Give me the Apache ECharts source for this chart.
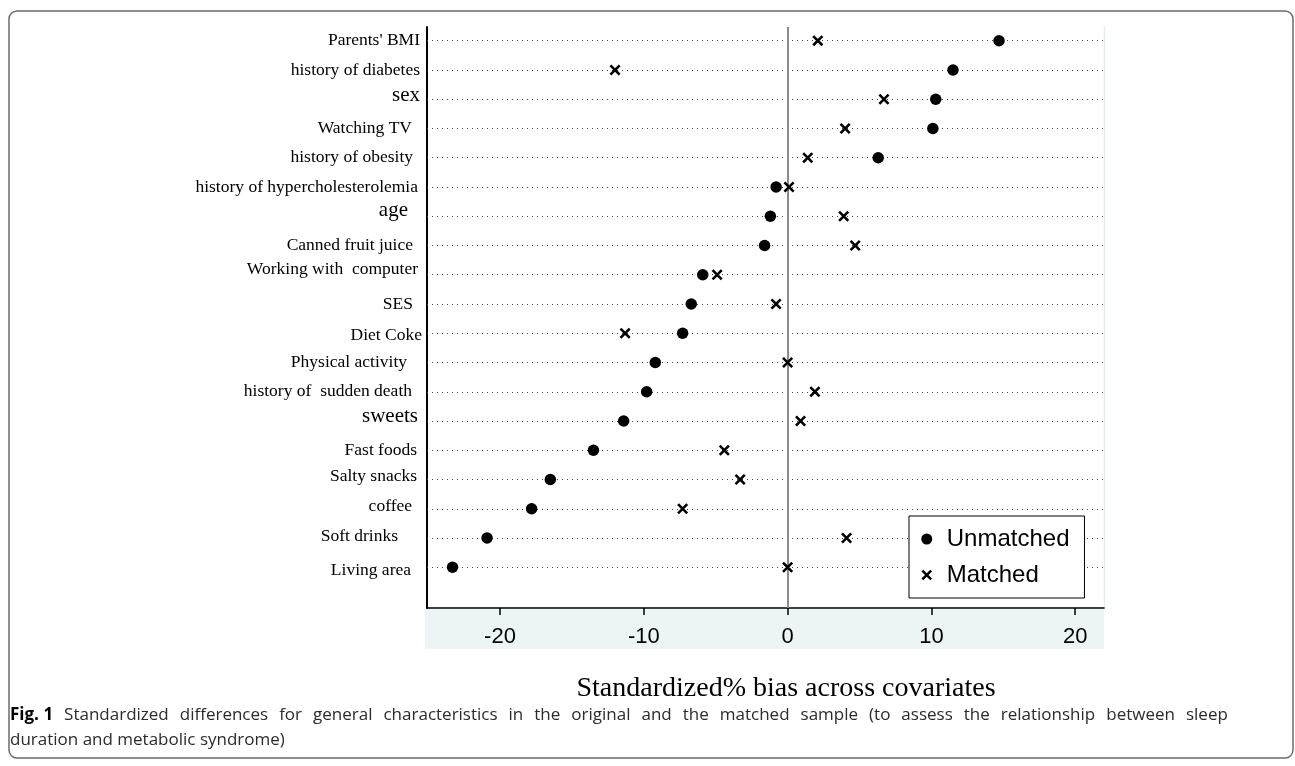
<!DOCTYPE html>
<html>
<head>
<meta charset="utf-8">
<script src="https://cdn.jsdelivr.net/npm/echarts@6/dist/echarts.min.js"></script>
<style>html,body{margin:0;padding:0;background:#fff}#c{width:1295px;height:766px}</style>
</head>
<body>
<div id="c"></div>
<script>
// ---- data ----
const categories = ["Parents' BMI", "history of diabetes", "sex", "Watching TV", "history of obesity",
  "history of hypercholesterolemia", "age", "Canned fruit juice", "Working with  computer", "SES",
  "Diet Coke", "Physical activity", "history of  sudden death", "sweets", "Fast foods",
  "Salty snacks", "coffee", "Soft drinks", "Living area"];
const unmatched = [14.7, 11.5, 10.3, 10.1, 6.3, -0.8, -1.2, -1.6, -5.9, -6.7, -7.3, -9.2, -9.8, -11.4, -13.5, -16.5, -17.8, -20.9, -23.3];
const matched = [2.1, -12.0, 6.7, 4.0, 1.4, 0.1, 3.9, 4.7, -4.9, -0.8, -11.3, 0.0, 1.9, 0.9, -4.4, -3.3, -7.3, 4.1, 0.0];
const xTicks = [-20, -10, 0, 10, 20];
const seriesNames = ['Unmatched', 'Matched'];
const xTitle = 'Standardized% bias across covariates';
const captionBold = 'Fig. 1';
const captionLine1 = 'Standardized differences for general characteristics in the original and the matched sample (to assess the relationship between sleep';
const captionLine2 = 'duration and metabolic syndrome)';

// ---- label styling (font size, right padding, vertical shift) ----
const bigLabels = { 'sex': 1, 'age': 1, 'sweets': 1 };
const labelTweak = {
  "Parents' BMI": [2, 0], "history of diabetes": [2, 0], "sex": [2, -4], "Watching TV": [10, 0],
  "history of obesity": [9, 0], "history of hypercholesterolemia": [4, 0], "age": [14, -6],
  "Canned fruit juice": [9, 0], "Working with  computer": [4, -5], "SES": [9, 0], "Diet Coke": [0, 2],
  "Physical activity": [15, 0], "history of  sudden death": [10, 0], "sweets": [4, -5],
  "Fast foods": [5, 0], "Salty snacks": [5, -3], "coffee": [10, -2], "Soft drinks": [24, -2], "Living area": [11, 3]
};
const rich = {};
categories.forEach(function (c, i) {
  const t = labelTweak[c] || [0, 0];
  const dy = t[1];
  rich['l' + i] = {
    fontFamily: 'Liberation Serif', fontSize: bigLabels[c] ? 21 : 17.5, color: '#000',
    padding: [dy > 0 ? 2 * dy : 0, t[0], dy < 0 ? -2 * dy : 0, 0]
  };
});

// justified first caption line: widened word gaps
const captionRich = '{b|' + captionBold + '}{sp| }' + captionLine1.split(' ').join('{sp| }') + '\n' + captionLine2;

const crossPath = 'path://M0,0M1,1L9,9M1,9L9,1M10,10';

const chart = echarts.init(document.getElementById('c'), null, { renderer: 'canvas' });
chart.setOption({
  animation: false,
  backgroundColor: '#fff',
  grid: { left: 427, top: 27, width: 677, height: 581, containLabel: false },
  xAxis: {
    type: 'value', min: -25.075, max: 22,
    axisLine: { show: true, onZero: false, lineStyle: { color: '#000', width: 1.5 } },
    axisTick: { show: true, customValues: xTicks, length: 7, lineStyle: { color: '#000', width: 1.5 } },
    axisLabel: { customValues: xTicks, margin: 18, fontFamily: 'Liberation Sans', fontSize: 22, color: '#000' },
    splitLine: { show: false }
  },
  yAxis: {
    type: 'value', inverse: true, min: -0.468, max: 19.391,
    axisLine: { show: true, onZero: false, lineStyle: { color: '#000', width: 2 } },
    axisTick: { show: false, customValues: categories.map(function (c, i) { return i; }) },
    axisLabel: {
      customValues: categories.map(function (c, i) { return i; }),
      margin: 5,
      formatter: function (v) { const i = Math.round(v); return '{l' + i + '|' + categories[i] + '}'; },
      rich: rich
    },
    splitLine: { show: false }
  },
  legend: {
    orient: 'vertical', left: 909, top: 516,
    padding: [10, 15, 10, 11],
    borderColor: '#000', borderWidth: 1, backgroundColor: '#fff',
    itemWidth: 30, itemHeight: 11, itemGap: 10,
    selectedMode: false,
    textStyle: { fontFamily: 'Liberation Sans', fontSize: 24, color: '#000', lineHeight: 26 },
    data: [
      { name: seriesNames[0], icon: 'circle', itemStyle: { color: '#000' } },
      { name: seriesNames[1], icon: crossPath, itemStyle: { color: '#000', borderColor: '#000', borderWidth: 2.5 } }
    ]
  },
  series: [
    {
      name: seriesNames[0], type: 'scatter', z: 3,
      symbol: 'circle', symbolSize: 11.5,
      itemStyle: { color: '#000', opacity: 1 },
      data: unmatched.map(function (v, i) { return [v, i]; }),
      markLine: {
        silent: true, z: 1, symbol: ['none', 'none'], label: { show: false },
        lineStyle: { type: [1, 4], color: '#444', width: 1 },
        emphasis: { disabled: true },
        data: categories.map(function (c, i) { return { yAxis: i }; }).concat([
          { xAxis: 0, lineStyle: { type: 'solid', color: '#8a8a8a', width: 2 } }
        ])
      }
    },
    {
      name: seriesNames[1], type: 'scatter', z: 4,
      symbol: crossPath, symbolSize: 11.5,
      itemStyle: { color: '#000', borderColor: '#000', borderWidth: 2.6, opacity: 1 },
      data: matched.map(function (v, i) { return [v, i]; })
    }
  ],
  graphic: [
    { type: 'rect', z: -1, silent: true, shape: { x: 425, y: 609, width: 679, height: 40 }, style: { fill: '#edf4f6' } },
    { type: 'line', z: -1, silent: true, shape: { x1: 1104.5, y1: 27, x2: 1104.5, y2: 609 }, style: { stroke: '#e2edf1', lineWidth: 1.5 } },
    { type: 'rect', silent: true, shape: { x: 9, y: 11, width: 1284, height: 747, r: 8 }, style: { fill: 'none', stroke: '#6b6b6b', lineWidth: 1.5 } },
    { type: 'text', silent: true, x: 786, y: 689, style: { text: xTitle, font: '28px "Liberation Serif"', fill: '#000', align: 'center', verticalAlign: 'middle' } },
    {
      type: 'text', silent: true, x: 10, y: 703,
      style: {
        text: captionRich,
        fontFamily: 'Open Sans', fontSize: 17, lineHeight: 25, fill: '#2b2b2b',
        rich: {
          b: { fontFamily: 'Open Sans', fontWeight: 'bold', fontSize: 17, fill: '#000', lineHeight: 25 },
          sp: { fontFamily: 'Open Sans', fontSize: 17, lineHeight: 25, width: 11 }
        }
      }
    }
  ]
});
</script>
</body>
</html>
